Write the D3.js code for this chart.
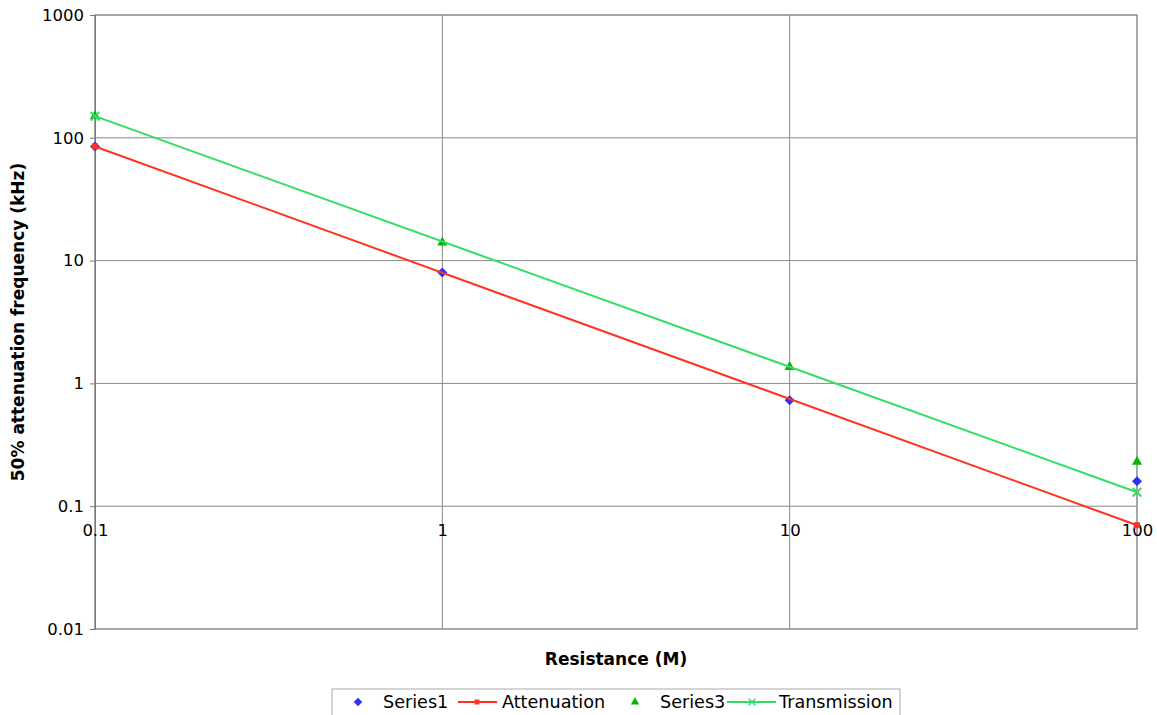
<!DOCTYPE html>
<html>
<head>
<meta charset="utf-8">
<script src="https://cdn.jsdelivr.net/npm/d3@7"></script>
<style>
  body { margin: 0; background: #fff; }
  svg { font-family: "DejaVu Sans", Verdana, sans-serif; }
</style>
</head>
<body>
<div id="chart"></div>
<script>
// data
var resistance = [0.1, 1, 10, 100];
var series1 = [85, 8, 0.73, 0.16];
var series3 = [150, 14, 1.36, 0.23];
var attenuationX = [0.1, 100];
var attenuationY = [85, 0.07];
var transmissionX = [0.1, 100];
var transmissionY = [150, 0.13];
var xTicks = [0.1, 1, 10, 100];
var yTicks = [0.01, 0.1, 1, 10, 100, 1000];

var width = 1157, height = 715;
var margin = { top: 15, right: 20, bottom: 86, left: 95 };
var plotW = width - margin.left - margin.right,
    plotH = height - margin.top - margin.bottom;

var svg = d3.select("#chart").append("svg")
    .attr("width", width)
    .attr("height", height);

var g = svg.append("g")
    .attr("transform", "translate(" + margin.left + "," + margin.top + ")");

var x = d3.scaleLog().domain([0.1, 100]).range([0, plotW]);
var y = d3.scaleLog().domain([0.01, 1000]).range([plotH, 0]);

// grid
g.selectAll(".hgrid").data(yTicks).enter().append("line")
    .attr("x1", 0).attr("x2", plotW)
    .attr("y1", function (d) { return y(d); })
    .attr("y2", function (d) { return y(d); })
    .attr("stroke", "#8a8a8a").attr("stroke-width", 1);

g.selectAll(".vgrid").data(xTicks).enter().append("line")
    .attr("y1", 0).attr("y2", plotH)
    .attr("x1", function (d) { return x(d); })
    .attr("x2", function (d) { return x(d); })
    .attr("stroke", "#8a8a8a").attr("stroke-width", 1);

// plot border
g.append("rect")
    .attr("width", plotW).attr("height", plotH)
    .attr("fill", "none").attr("stroke", "#8a8a8a");

// y axis
var yAxis = d3.axisLeft(y)
    .tickValues(yTicks)
    .tickSize(5)
    .tickPadding(6)
    .tickFormat(function (d) { return String(d); });
var ya = g.append("g").call(yAxis);
ya.select(".domain").attr("stroke", "#777");
ya.selectAll(".tick line").attr("stroke", "#777");
ya.selectAll("text").attr("font-size", 16.5).attr("fill", "#000")
    .attr("font-family", "DejaVu Sans, Verdana, sans-serif");

// x axis crossing at 0.1
var xAxis = d3.axisBottom(x)
    .tickValues(xTicks)
    .tickSize(0)
    .tickPadding(18)
    .tickFormat(function (d) { return String(d); });
var xa = g.append("g")
    .attr("transform", "translate(0," + y(0.1) + ")")
    .call(xAxis);
xa.select(".domain").remove();
xa.selectAll("text").attr("font-size", 16.5).attr("fill", "#000")
    .attr("font-family", "DejaVu Sans, Verdana, sans-serif");

// axis titles
svg.append("text")
    .attr("x", margin.left + plotW / 2)
    .attr("y", 665)
    .attr("text-anchor", "middle")
    .attr("font-size", 17).attr("font-weight", "bold")
    .text("Resistance (M)");

svg.append("text")
    .attr("transform", "translate(24," + (margin.top + plotH / 2) + ") rotate(-90)")
    .attr("text-anchor", "middle")
    .attr("font-size", 17).attr("font-weight", "bold")
    .text("50% attenuation frequency (kHz)");

var line = d3.line()
    .x(function (d) { return x(d[0]); })
    .y(function (d) { return y(d[1]); });

var blue = "#3030f0", red = "#ff3322", green3 = "#00b800", green = "#33dd66";

// Series1 diamonds (square turned 45 degrees)
g.selectAll(".s1").data(d3.zip(resistance, series1)).enter().append("path")
    .attr("d", d3.symbol(d3.symbolSquare, 50))
    .attr("transform", function (d) { return "translate(" + x(d[0]) + "," + y(d[1]) + ") rotate(45)"; })
    .attr("fill", blue);

// Attenuation
var att = d3.zip(attenuationX, attenuationY);
g.append("path").datum(att)
    .attr("d", line).attr("fill", "none")
    .attr("stroke", red).attr("stroke-width", 2);
g.selectAll(".att").data(att).enter().append("rect")
    .attr("x", function (d) { return x(d[0]) - 3; })
    .attr("y", function (d) { return y(d[1]) - 3; })
    .attr("width", 6).attr("height", 6)
    .attr("fill", red);

// Series3 triangles
g.selectAll(".s3").data(d3.zip(resistance, series3)).enter().append("path")
    .attr("d", d3.symbol(d3.symbolTriangle, 45))
    .attr("transform", function (d) { return "translate(" + x(d[0]) + "," + y(d[1]) + ")"; })
    .attr("fill", green3);

// Transmission
var tr = d3.zip(transmissionX, transmissionY);
g.append("path").datum(tr)
    .attr("d", line).attr("fill", "none")
    .attr("stroke", green).attr("stroke-width", 2);
g.selectAll(".tr").data(tr).enter().append("path")
    .attr("d", d3.symbol(d3.symbolX, 50))
    .attr("transform", function (d) { return "translate(" + x(d[0]) + "," + y(d[1]) + ")"; })
    .attr("fill", "none").attr("stroke", green).attr("stroke-width", 2);

// legend
var lg = svg.append("g").attr("transform", "translate(332,689)");
lg.append("rect")
    .attr("width", 568).attr("height", 32)
    .attr("fill", "#fff").attr("stroke", "#aaa");

var ly = 13, fs = 17.6;
lg.append("path").attr("d", d3.symbol(d3.symbolSquare, 36))
    .attr("transform", "translate(26," + ly + ") rotate(45)").attr("fill", blue);
lg.append("text").attr("x", 51).attr("y", ly + 6).attr("font-size", fs).text("Series1");

lg.append("line").attr("x1", 126).attr("x2", 165).attr("y1", ly).attr("y2", ly)
    .attr("stroke", red).attr("stroke-width", 2);
lg.append("rect").attr("x", 142.5).attr("y", ly - 2.5).attr("width", 5).attr("height", 5).attr("fill", red);
lg.append("text").attr("x", 170).attr("y", ly + 6).attr("font-size", fs).text("Attenuation");

lg.append("path").attr("d", d3.symbol(d3.symbolTriangle, 30))
    .attr("transform", "translate(303," + ly + ")").attr("fill", green3);
lg.append("text").attr("x", 328).attr("y", ly + 6).attr("font-size", fs).text("Series3");

lg.append("line").attr("x1", 395).attr("x2", 444).attr("y1", ly).attr("y2", ly)
    .attr("stroke", green).attr("stroke-width", 2);
lg.append("path").attr("d", d3.symbol(d3.symbolX, 30))
    .attr("transform", "translate(420," + ly + ")")
    .attr("fill", "none").attr("stroke", green).attr("stroke-width", 1.5);
lg.append("text").attr("x", 447).attr("y", ly + 6).attr("font-size", fs).text("Transmission");
</script>
</body>
</html>
